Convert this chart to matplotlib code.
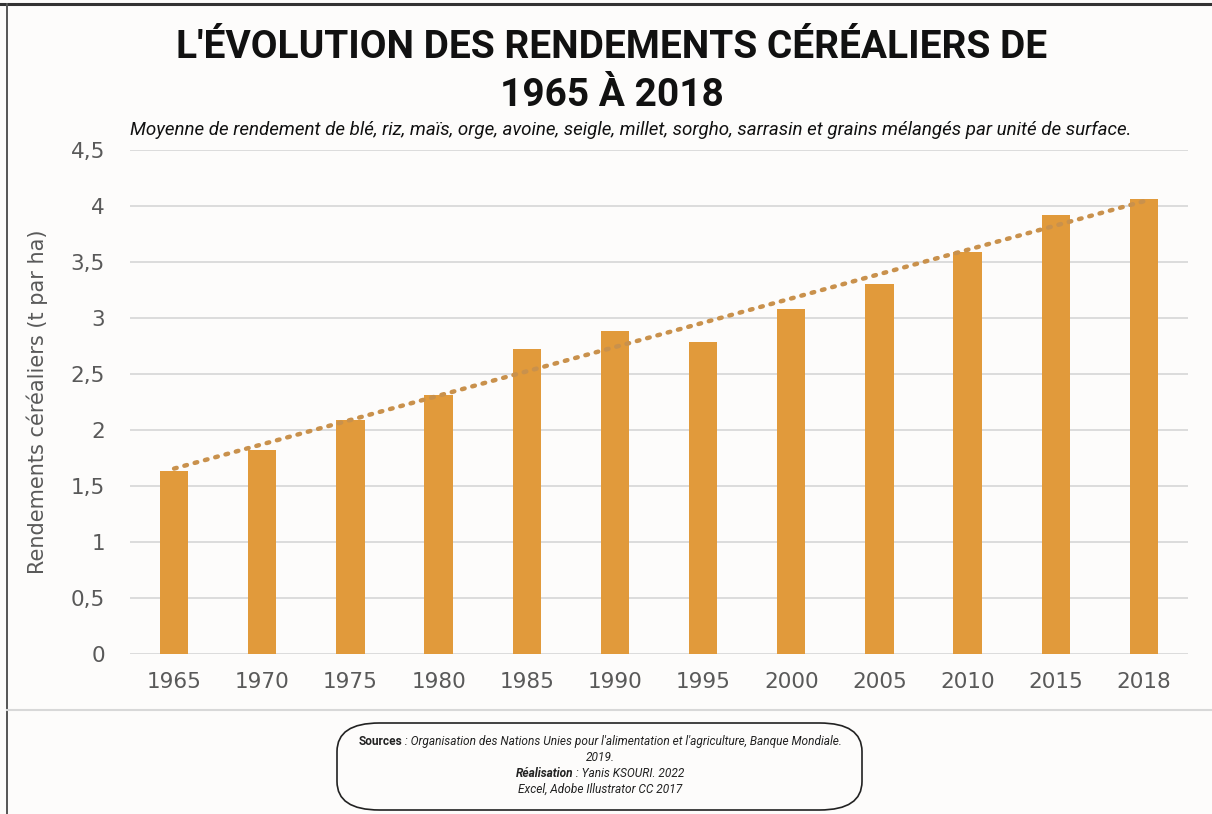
import matplotlib
matplotlib.use("Agg")
import matplotlib.pyplot as plt
import matplotlib.patches as mpatches
from matplotlib.lines import Line2D
import numpy as np

plt.rcParams['font.family'] = ['Roboto', 'DejaVu Sans']

# data
years = ["1965", "1970", "1975", "1980", "1985", "1990", "1995",
         "2000", "2005", "2010", "2015", "2018"]
rendements = [1.63, 1.82, 2.09, 2.31, 2.72, 2.88, 2.79, 3.08, 3.30, 3.59, 3.92, 4.06]
yticks = [0, 0.5, 1, 1.5, 2, 2.5, 3, 3.5, 4, 4.5]
ytick_labels = ["0", "0,5", "1", "1,5", "2", "2,5", "3", "3,5", "4", "4,5"]

bar_color = "#E19A3B"
trend_color = "#C9914C"
grey = "#595959"
bg = "#FDFCFB"
axis_font = ['DejaVu Sans']

W, H = 1212, 814
fig = plt.figure(figsize=(W / 100, H / 100), dpi=100, facecolor=bg)


def fx(px):
    return px / W


def fy(py):
    return 1 - py / H


# page frame: dark top and left lines, light separator above the sources
fig.add_artist(Line2D([0, 1], [fy(4), fy(4)], color="#333333", lw=2.2))
fig.add_artist(Line2D([fx(7), fx(7)], [0, fy(4)], color="#555555", lw=1.4))
fig.add_artist(Line2D([fx(7), 1], [fy(710), fy(710)], color="#d8d8d8", lw=1.5))

# chart
ax = fig.add_axes([fx(130), fy(654), fx(1188 - 130), (654 - 150) / H])
ax.set_facecolor(bg)
x = np.arange(len(years))
ax.bar(x, rendements, width=0.32, color=bar_color, zorder=3)

# linear trend line (Excel style)
a, b = np.polyfit(x, rendements, 1)
ax.plot(x, a * x + b, linestyle=(0, (0.6, 1.8)), dash_capstyle="round",
        color=trend_color, lw=3.2, zorder=4)

ax.set_xlim(-0.5, len(years) - 0.5)
ax.set_ylim(0, 4.5)
ax.set_yticks(yticks)
ax.set_yticklabels(ytick_labels, family=axis_font)
ax.set_xticks(x)
ax.set_xticklabels(years, family=axis_font)
ax.tick_params(axis="both", length=0, labelsize=15.5, labelcolor=grey)
ax.tick_params(axis="y", pad=18)
ax.tick_params(axis="x", pad=13)
ax.yaxis.grid(True, color="#d9d9d9", lw=1.3, zorder=0)
for s in ax.spines.values():
    s.set_visible(False)
ax.set_ylabel("Rendements céréaliers (t par ha)", fontsize=15, color=grey,
              labelpad=16, family=axis_font)

# titles
fig.text(fx(612), fy(48), "L'ÉVOLUTION DES RENDEMENTS CÉRÉALIERS DE",
         ha="center", va="center", fontsize=28, fontweight="bold", color="#111111")
fig.text(fx(612), fy(96), "1965 À 2018",
         ha="center", va="center", fontsize=28, fontweight="bold", color="#111111")
fig.text(fx(130), fy(130),
         "Moyenne de rendement de blé, riz, maïs, orge, avoine, seigle, millet, sorgho, "
         "sarrasin et grains mélangés par unité de surface.",
         ha="left", va="center", fontsize=13.5, style="italic", color="#111111")

# sources box
box = mpatches.FancyBboxPatch((fx(337), fy(810)), fx(862 - 337), (810 - 723) / H,
                              boxstyle="round,pad=0,rounding_size=0.035",
                              transform=fig.transFigure, facecolor=bg,
                              edgecolor="#222222", lw=1.2)
fig.add_artist(box)

fig.canvas.draw()
renderer = fig.canvas.get_renderer()


def line_of_pieces(pieces, cy, size=8.6):
    # draw text pieces side by side, centred as a whole on x=600 px
    texts = []
    for txt, weight, style in pieces:
        t = fig.text(0, fy(cy), txt, ha="left", va="baseline", fontsize=size,
                     fontweight=weight, style=style, color="#222222")
        texts.append(t)
    widths = [t.get_window_extent(renderer).width for t in texts]
    start = 600 - sum(widths) / 2
    for t, w in zip(texts, widths):
        t.set_x(fx(start))
        start += w


line_of_pieces([("Sources", "bold", "normal"),
                (" : Organisation des Nations Unies pour l'alimentation et l'agriculture, Banque Mondiale.",
                 "normal", "italic")], 745)
line_of_pieces([("2019.", "normal", "italic")], 761)
line_of_pieces([("Réalisation", "bold", "italic"), (" : Yanis KSOURI. 2022", "normal", "italic")], 777)
line_of_pieces([("Excel, Adobe Illustrator CC 2017", "normal", "italic")], 793)

fig.savefig("out.png", dpi=100, facecolor=bg)
